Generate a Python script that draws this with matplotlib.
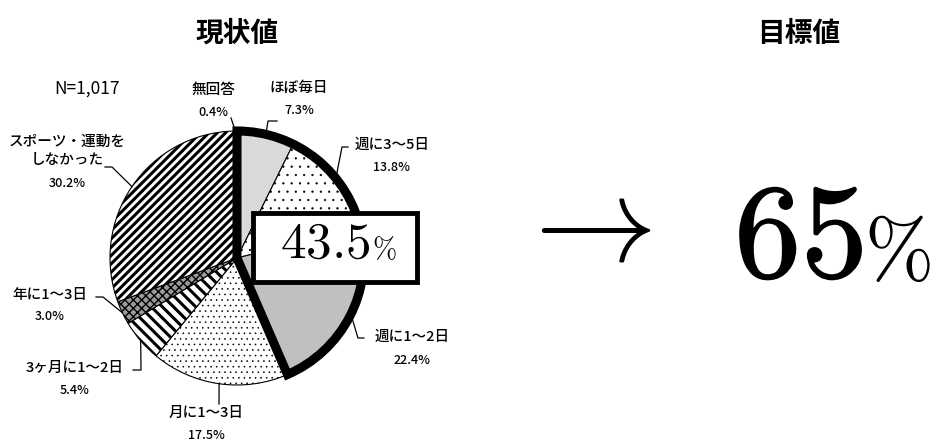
import matplotlib
matplotlib.use('Agg')
import matplotlib.pyplot as plt
import matplotlib.patheffects as pe
import numpy as np
from matplotlib.patches import Wedge, Rectangle

plt.rcParams['font.family'] = ['Noto Sans CJK JP', 'DejaVu Sans']
plt.rcParams['mathtext.fontset'] = 'cm'
plt.rcParams['hatch.linewidth'] = 1.6
plt.rcParams['hatch.color'] = 'black'

# データ
categories = ['ほぼ毎日', '週に3～5日', '週に1～2日', '月に1～3日',
              '3ヶ月に1～2日', '年に1～3日', 'スポーツ・運動を\nしなかった', '無回答']
values = [7.3, 13.8, 22.4, 17.5, 5.4, 3.0, 30.2, 0.4]
pct_labels = ['7.3%', '13.8%', '22.4%', '17.5%', '5.4%', '3.0%', '30.2%', '0.4%']
n_label = 'N=1,017'
current_total = 43.5   # 週1回以上
target = 65

H = 440
def Y(y):
    return H - y

fig = plt.figure(figsize=(9.39, 4.40), dpi=100)
ax = fig.add_axes([0, 0, 1, 1])

# 円グラフ
cx, cy, r = 237, Y(258), 127
colors = ['#d9d9d9', 'white', '#c0c0c0', 'white', 'white', '#9a9a9a', 'white', 'white']
hatches = ['', '..', '', '...', '\\\\\\', 'xxxx', '////', '']
hatch_lw = [1, 0.4, 1, 0.4, 2.2, 1.0, 2.2, 1]
wedges, _ = ax.pie(values, colors=colors, hatch=hatches, startangle=90, counterclock=False,
                   center=(cx, cy), radius=r,
                   wedgeprops=dict(edgecolor='black', linewidth=0.8))
for w, lw in zip(wedges, hatch_lw):
    if hasattr(w, 'set_hatch_linewidth'):
        w.set_hatch_linewidth(lw)

# 週1回以上 を太枠で囲む
ax.add_patch(Wedge((cx, cy), r, 90 - 360 * current_total / 100, 90, fill=False,
                   edgecolor='black', linewidth=6.5, joinstyle='miter', zorder=5))

# ラベルと引き出し線 (テキスト中心x, 名前y, %y, 引き出し線の折れ点)
label_pos = [
    (299, 88, 110, [(268, 121), (277, 121)]),
    (392, 145, 167, [(342, 147), (348, 147)]),
    (412, 337, 360, [(358, 338), (364, 338)]),
    (206, 413, 435, [(219, 404)]),
    (75, 368, 390, [(141, 370), (133, 370)]),
    (50, 295, 316, [(103, 297), (96, 297)]),
    (67, 151, 183, [(112, 167), (105, 167)]),
    (213, 90, 112, [(231, 118)]),
]
total = sum(values)
cum = np.cumsum([0] + values[:-1])
for i, (name, pct) in enumerate(zip(categories, pct_labels)):
    tx, ny, py, pts = label_pos[i]
    ang = np.deg2rad(90 - 360 * (cum[i] + values[i] / 2) / total)
    ex, ey = cx + r * np.cos(ang), cy + r * np.sin(ang)
    xs = [ex] + [p[0] for p in pts]
    ys = [ey] + [Y(p[1]) for p in pts]
    ax.plot(xs, ys, color='black', linewidth=0.9, zorder=6)
    ax.text(tx, Y(ny), name, ha='center', va='center', fontsize=10.5, linespacing=1.4,
            fontweight='medium')
    ax.text(tx, Y(py), pct, ha='center', va='center', fontsize=9, fontweight='medium')

ax.text(87, Y(89), n_label, ha='center', va='center', fontsize=12.5)

# 43.5% の枠
ax.add_patch(Rectangle((253, Y(282)), 164, 69, facecolor='white', edgecolor='black',
                       linewidth=3.5, zorder=7))
ax.text(371, Y(258), r'$%.1f$' % current_total, ha='right', va='baseline', fontsize=37, zorder=8)
ax.text(372, Y(258), r'$\%$', ha='left', va='baseline', fontsize=21, zorder=8)

# タイトル
ax.text(237, Y(34), '現状値', ha='center', va='center', fontsize=20, fontweight='bold')
ax.text(799, Y(34), '目標値', ha='center', va='center', fontsize=20, fontweight='bold')

# 目標値
ax.text(582, Y(226), r'$\rightarrow$', ha='center', va='center', fontsize=88)
ax.text(863, Y(277), r'$%d$' % target, ha='right', va='baseline', fontsize=96,
        path_effects=[pe.withStroke(linewidth=1.3, foreground='black')])
ax.text(864, Y(277), r'$\%$', ha='left', va='baseline', fontsize=60)

ax.set_xlim(0, 939)
ax.set_ylim(0, H)
ax.set_aspect('auto')
ax.axis('off')

fig.savefig('out.png', dpi=100)
